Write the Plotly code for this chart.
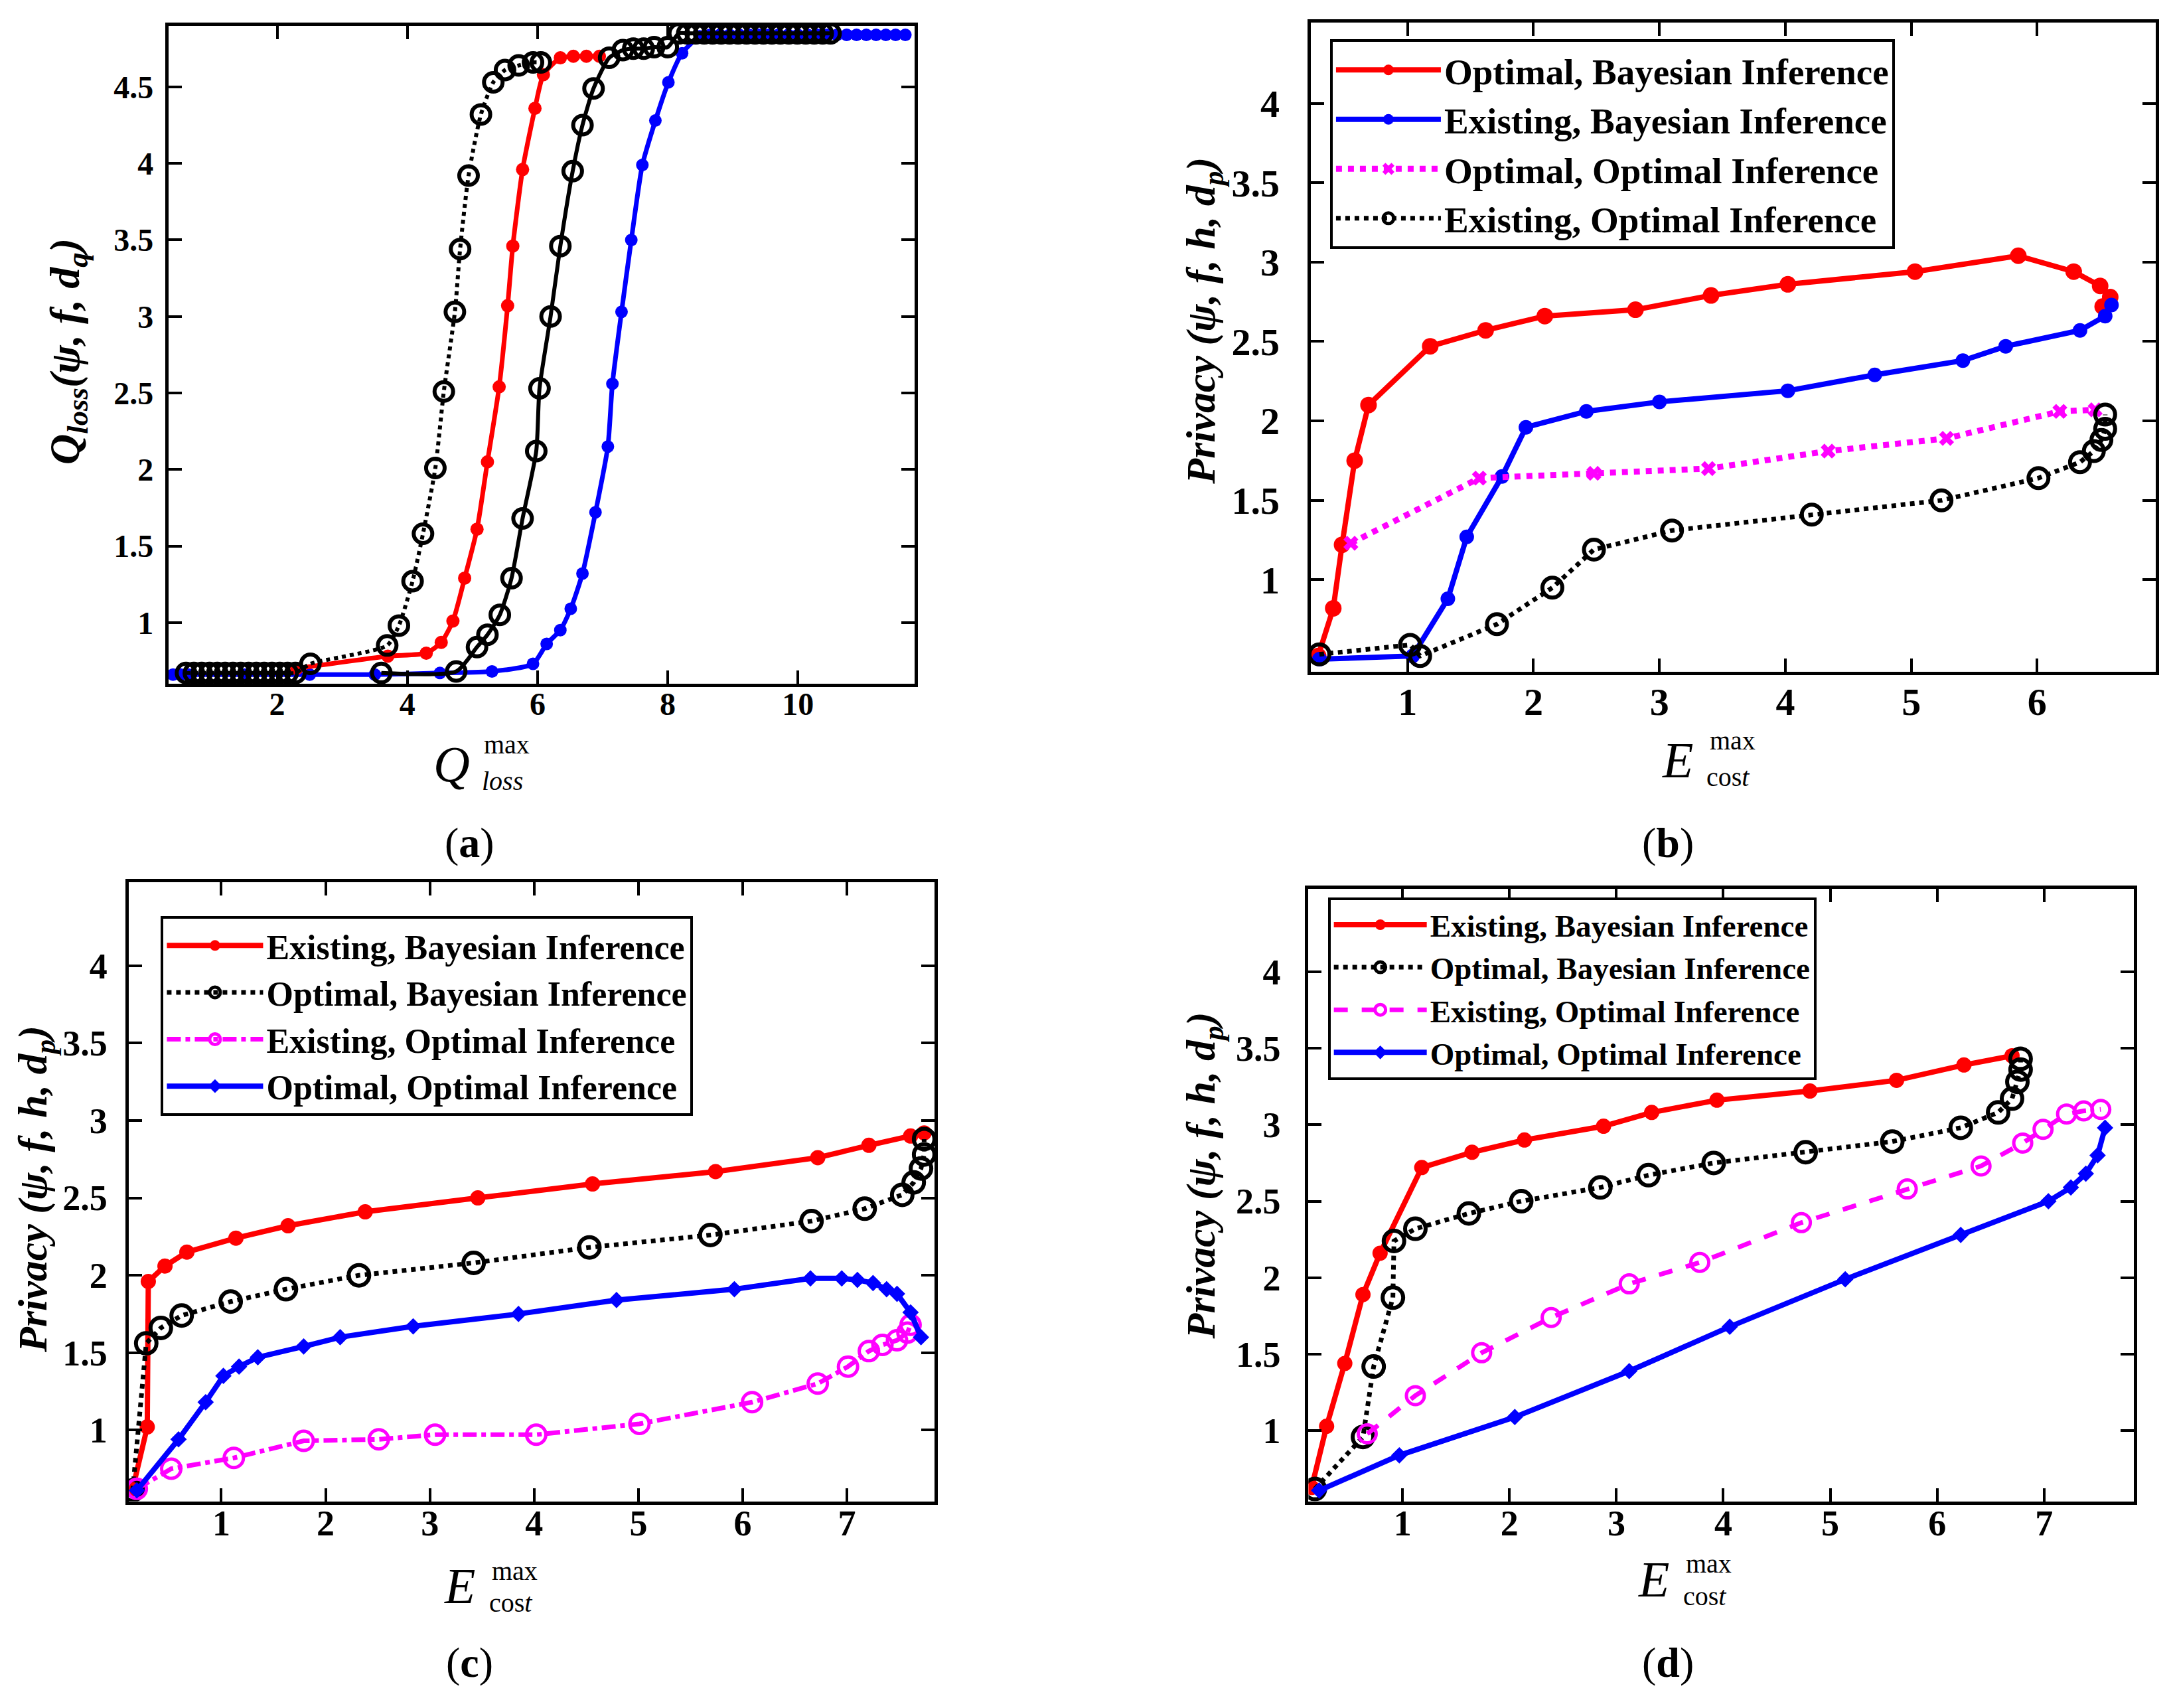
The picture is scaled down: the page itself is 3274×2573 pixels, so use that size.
import plotly.graph_objects as go

# ---------------- (a) Q_loss vs Q_loss^max ----------------
a_bdot_x = [0.60, 0.72, 0.84, 0.96, 1.08, 1.20, 1.32, 1.44, 1.56, 1.68, 1.80, 1.92, 2.04, 2.16, 2.28,
            2.51, 3.69, 3.87, 4.08, 4.24, 4.43, 4.56, 4.73, 4.81, 4.94, 5.13, 5.32, 5.50, 5.71, 5.93, 6.05]
a_bdot_y = [0.67, 0.67, 0.67, 0.67, 0.67, 0.67, 0.67, 0.67, 0.67, 0.67, 0.67, 0.67, 0.67, 0.67, 0.67,
            0.73, 0.85, 0.98, 1.27, 1.58, 2.01, 2.51, 3.03, 3.44, 3.92, 4.32, 4.53, 4.61, 4.64, 4.66, 4.66]

a_red_x = [2.30, 3.70, 4.29, 4.52, 4.70, 4.88, 5.07, 5.23, 5.41, 5.54, 5.62, 5.77, 5.96, 6.09,
           6.35, 6.55, 6.75, 6.95]
a_red_y = [0.70, 0.78, 0.80, 0.87, 1.01, 1.29, 1.61, 2.05, 2.54, 3.07, 3.46, 3.96, 4.36, 4.58,
           4.69, 4.70, 4.70, 4.70]

a_blk_x = [3.60, 4.75, 5.07, 5.23, 5.42, 5.60, 5.77, 5.98, 6.03, 6.20, 6.35, 6.54, 6.69, 6.86,
           7.10, 7.31, 7.47, 7.63, 7.79, 8.00,
           8.17, 8.30, 8.43, 8.56, 8.69, 8.82, 8.95, 9.08, 9.21, 9.34, 9.47, 9.60, 9.73, 9.86,
           9.99, 10.12, 10.25, 10.38, 10.50]
a_blk_y = [0.67, 0.68, 0.84, 0.92, 1.05, 1.29, 1.68, 2.12, 2.53, 3.00, 3.46, 3.95, 4.25, 4.49,
           4.69, 4.74, 4.75, 4.75, 4.76, 4.76,
           4.85, 4.85, 4.85, 4.85, 4.85, 4.85, 4.85, 4.85, 4.85, 4.85, 4.85, 4.85, 4.85, 4.85,
           4.85, 4.85, 4.85, 4.85, 4.85]

a_blue_x = [0.40, 0.52, 0.64, 1.50, 2.50, 3.50, 4.50, 5.30, 5.93, 6.14, 6.35, 6.51, 6.69, 6.89,
            7.08, 7.15, 7.29, 7.44, 7.61, 7.81, 8.01, 8.22, 8.49,
            8.65, 8.80, 8.95, 9.10, 9.25, 9.40, 9.55, 9.70, 9.85, 10.00, 10.15, 10.30, 10.45,
            10.60, 10.75, 10.90, 11.05, 11.20, 11.35, 11.50, 11.65]
a_blue_y = [0.66, 0.66, 0.66, 0.66, 0.66, 0.66, 0.67, 0.68, 0.73, 0.86, 0.95, 1.09, 1.32, 1.72,
            2.15, 2.56, 3.03, 3.50, 3.99, 4.28, 4.53, 4.72, 4.83,
            4.84, 4.84, 4.84, 4.84, 4.84, 4.84, 4.84, 4.84, 4.84, 4.84, 4.84, 4.84, 4.84,
            4.84, 4.84, 4.84, 4.84, 4.84, 4.84, 4.84, 4.84]

# ---------------- (b) ----------------
b_names = ['Optimal, Bayesian Inference', 'Existing, Bayesian Inference',
           'Optimal, Optimal Inference', 'Existing, Optimal Inference']
b_red_x = [0.29, 0.41, 0.48, 0.58, 0.69, 1.18, 1.62, 2.09, 2.81, 3.41, 4.02, 5.03, 5.85, 6.29, 6.50, 6.58, 6.52]
b_red_y = [0.52, 0.82, 1.22, 1.75, 2.10, 2.47, 2.57, 2.66, 2.70, 2.79, 2.86, 2.94, 3.04, 2.94, 2.85, 2.78, 2.72]
b_blue_x = [0.30, 1.04, 1.32, 1.47, 1.75, 1.94, 2.42, 3.00, 4.02, 4.71, 5.41, 5.75, 6.34, 6.54, 6.59]
b_blue_y = [0.50, 0.52, 0.88, 1.27, 1.65, 1.96, 2.06, 2.12, 2.19, 2.29, 2.38, 2.47, 2.57, 2.66, 2.73]
b_mag_x = [0.55, 1.57, 2.48, 3.39, 4.34, 5.28, 6.18, 6.46]
b_mag_y = [1.23, 1.64, 1.67, 1.70, 1.81, 1.89, 2.06, 2.07]
b_blk_x = [0.30, 1.02, 1.10, 1.71, 2.15, 2.48, 3.10, 4.21, 5.24, 6.01, 6.34, 6.45, 6.51, 6.54, 6.54]
b_blk_y = [0.53, 0.59, 0.52, 0.72, 0.95, 1.19, 1.31, 1.41, 1.50, 1.64, 1.74, 1.81, 1.88, 1.95, 2.04]

# ---------------- (c) ----------------
cd_names = ['Existing, Bayesian Inference', 'Optimal, Bayesian Inference',
            'Existing, Optimal Inference', 'Optimal, Optimal Inference']
c_red_x = [0.15, 0.29, 0.30, 0.46, 0.67, 1.14, 1.64, 2.38, 3.46, 4.56, 5.74, 6.72, 7.21, 7.61, 7.74]
c_red_y = [0.62, 1.02, 1.96, 2.06, 2.15, 2.24, 2.32, 2.41, 2.50, 2.59, 2.67, 2.76, 2.84, 2.90, 2.92]
c_blk_x = [0.15, 0.28, 0.42, 0.62, 1.09, 1.62, 2.32, 3.42, 4.53, 5.69, 6.66, 7.17, 7.53, 7.64, 7.71, 7.74, 7.74]
c_blk_y = [0.61, 1.56, 1.66, 1.74, 1.83, 1.91, 2.00, 2.08, 2.18, 2.26, 2.35, 2.43, 2.52, 2.60, 2.69, 2.78, 2.88]
c_mag_x = [0.19, 0.52, 1.12, 1.79, 2.51, 3.05, 4.02, 5.01, 6.09, 6.72, 7.01, 7.21, 7.34, 7.48, 7.58, 7.61]
c_mag_y = [0.62, 0.75, 0.82, 0.93, 0.94, 0.97, 0.97, 1.04, 1.18, 1.30, 1.41, 1.51, 1.55, 1.58, 1.63, 1.68]
c_blue_x = [0.19, 0.59, 0.85, 1.02, 1.17, 1.35, 1.79, 2.14, 2.84, 3.85, 4.79, 5.92, 6.65, 6.95,
            7.10, 7.25, 7.38, 7.48, 7.61, 7.71]
c_blue_y = [0.61, 0.94, 1.18, 1.35, 1.41, 1.47, 1.54, 1.60, 1.67, 1.75, 1.84, 1.91, 1.98, 1.98,
            1.97, 1.95, 1.91, 1.88, 1.76, 1.60]

# ---------------- (d) ----------------
d_red_x = [0.15, 0.29, 0.46, 0.63, 0.79, 1.18, 1.65, 2.14, 2.88, 3.33, 3.94, 4.81, 5.62, 6.25, 6.70]
d_red_y = [0.63, 1.03, 1.44, 1.89, 2.16, 2.72, 2.82, 2.90, 2.99, 3.08, 3.16, 3.22, 3.29, 3.39, 3.45]
d_blk_x = [0.18, 0.63, 0.73, 0.91, 0.92, 1.12, 1.62, 2.11, 2.85, 3.30, 3.91, 4.77, 5.58, 6.22,
           6.57, 6.70, 6.75, 6.78, 6.78]
d_blk_y = [0.62, 0.96, 1.42, 1.87, 2.24, 2.32, 2.42, 2.50, 2.59, 2.67, 2.75, 2.82, 2.89, 2.98,
           3.08, 3.17, 3.28, 3.36, 3.43]
d_mag_x = [0.67, 1.12, 1.74, 2.39, 3.12, 3.78, 4.73, 5.72, 6.41, 6.80, 6.99, 7.21, 7.37, 7.53]
d_mag_y = [0.98, 1.23, 1.51, 1.74, 1.96, 2.10, 2.36, 2.58, 2.73, 2.88, 2.97, 3.07, 3.09, 3.10]
d_blue_x = [0.22, 0.97, 2.05, 3.12, 4.06, 5.14, 6.22, 7.04, 7.25, 7.39, 7.50, 7.57]
d_blue_y = [0.61, 0.84, 1.09, 1.39, 1.68, 1.99, 2.28, 2.50, 2.59, 2.68, 2.80, 2.98]

# tick values
a_xticks = [2, 4, 6, 8, 10]
a_yticks = [1, 1.5, 2, 2.5, 3, 3.5, 4, 4.5]
b_xticks = [1, 2, 3, 4, 5, 6]
cd_xticks = [1, 2, 3, 4, 5, 6, 7]
bcd_yticks = [1, 1.5, 2, 2.5, 3, 3.5, 4]


SERIF = 'Liberation Serif'
RED, BLUE, MAG, BLK = '#ff0000', '#0000ff', '#ff00ff', '#000000'

fig = go.Figure()


def add(x, y, ax, name, color, dash, symbol, size, mlw=0, width=8, legend='legend', show=True, shape='linear'):
    fig.add_trace(go.Scatter(
        x=x, y=y, xaxis='x' + ax, yaxis='y' + ax, name=name, mode='lines+markers',
        line=dict(color=color, width=width, dash=dash, shape=shape, smoothing=0.6),
        marker=dict(symbol=symbol, size=size, color=color, line=dict(color=color, width=mlw)),
        legend=legend, showlegend=show))


# (a) no legend
add(a_blue_x, a_blue_y, '', 'a4', BLUE, 'solid', 'circle', 19, width=7, show=False, shape='spline')
add(a_red_x, a_red_y, '', 'a2', RED, 'solid', 'circle', 20, width=7, show=False, shape='spline')
add(a_blk_x, a_blk_y, '', 'a3', BLK, 'solid', 'circle-open', 28, mlw=6, width=6, show=False, shape='spline')
add(a_bdot_x, a_bdot_y, '', 'a1', BLK, 'dot', 'circle-open', 28, mlw=6, width=6, show=False, shape='spline')

# (b)
add(b_red_x, b_red_y, '2', b_names[0], RED, 'solid', 'circle', 25)
add(b_blue_x, b_blue_y, '2', b_names[1], BLUE, 'solid', 'circle', 22)
add(b_mag_x, b_mag_y, '2', b_names[2], MAG, 'dot', 'x', 20, width=9)
add(b_blk_x, b_blk_y, '2', b_names[3], BLK, 'dot', 'circle-open', 30, mlw=6, width=7)

# (c)
add(c_red_x, c_red_y, '3', cd_names[0], RED, 'solid', 'circle', 23, legend='legend2')
add(c_blk_x, c_blk_y, '3', cd_names[1], BLK, 'dot', 'circle-open', 31, mlw=6, width=7, legend='legend2')
add(c_mag_x, c_mag_y, '3', cd_names[2], MAG, 'dashdot', 'circle-open', 29, mlw=5, width=7, legend='legend2')
add(c_blue_x, c_blue_y, '3', cd_names[3], BLUE, 'solid', 'diamond', 19, legend='legend2')

# (d)
add(d_red_x, d_red_y, '4', cd_names[0], RED, 'solid', 'circle', 23, legend='legend3')
add(d_blk_x, d_blk_y, '4', cd_names[1], BLK, 'dot', 'circle-open', 31, mlw=6, width=7, legend='legend3')
add(d_mag_x, d_mag_y, '4', cd_names[2], MAG, 'dash', 'circle-open', 27, mlw=5, width=7, legend='legend3')
add(d_blue_x, d_blue_y, '4', cd_names[3], BLUE, 'solid', 'diamond', 19, legend='legend3')


def axis(domain, rng, ticks, size, anchor, standoff):
    return dict(domain=domain, range=rng, tickvals=ticks, anchor=anchor,
                ticks='inside', ticklen=20, tickwidth=4, tickcolor='black',
                showline=True, linecolor='black', linewidth=5, mirror='ticks',
                showgrid=False, zeroline=False, ticklabelstandoff=standoff,
                tickfont=dict(family=SERIF, size=size, color='black', weight='bold'))


def legend_box(x, y, size, iw):
    return dict(x=x, y=y, xanchor='left', yanchor='top', bgcolor='white',
                bordercolor='black', borderwidth=4, itemwidth=iw, tracegroupgap=0,
                font=dict(family=SERIF, size=size, color='black', weight='bold'))


fig.update_layout(
    width=3256, height=2555, margin=dict(l=0, r=0, t=0, b=0),
    paper_bgcolor='white', plot_bgcolor='white', template='plotly_white',
    xaxis=axis([0.0755, 0.4207], [0.33, 11.79], a_xticks, 48, 'y', -16),
    yaxis=axis([0.600, 0.988], [0.60, 4.90], a_yticks, 48, 'x', 8),
    xaxis2=axis([0.604, 0.995], [0.23, 6.94], b_xticks, 58, 'y2', -10),
    yaxis2=axis([0.607, 0.990], [0.42, 4.51], bcd_yticks, 58, 'x2', 30),
    xaxis3=axis([0.057, 0.430], [0.11, 7.84], cd_xticks, 54, 'y3', -18),
    yaxis3=axis([0.118, 0.483], [0.54, 4.54], bcd_yticks, 54, 'x3', 16),
    xaxis4=axis([0.603, 0.985], [0.12, 7.84], cd_xticks, 54, 'y4', -18),
    yaxis4=axis([0.118, 0.479], [0.54, 4.54], bcd_yticks, 54, 'x4', 26),
    legend=legend_box(0.613, 0.980, 55, 158),
    legend2=legend_box(0.072, 0.463, 52, 145),
    legend3=legend_box(0.612, 0.474, 47, 140),
)

ann = []


def text(x, y, s, size, angle=0, bold=False):
    ann.append(dict(x=x, y=y, xref='paper', yref='paper', text=s, showarrow=False,
                    xanchor='center', yanchor='middle', textangle=angle,
                    font=dict(family=SERIF, size=size, color='black',
                              weight='bold' if bold else 'normal')))


# y axis titles
text(0.0288, 0.796, '<i>Q<sub>loss</sub>(ψ, f, d<sub>q</sub>)</i>', 64, -90, True)
text(0.5545, 0.814, '<i>Privacy (ψ, f, h, d<sub>p</sub>)</i>', 62, -90, True)
text(0.0140, 0.302, '<i>Privacy (ψ, f, h, d<sub>p</sub>)</i>', 62, -90, True)
text(0.5545, 0.310, '<i>Privacy (ψ, f, h, d<sub>p</sub>)</i>', 62, -90, True)

# x axis titles: big letter with stacked superscript "max" and subscript
for (bx, by, big, sub, up) in [(0.2064, 0.5527, 'Q', '<i>loss</i>', 0.0115),
                               (0.7737, 0.5551, 'E', 'cos<i>t</i>', 0.0115),
                               (0.2103, 0.0680, 'E', 'cos<i>t</i>', 0.0090),
                               (0.7628, 0.0721, 'E', 'cos<i>t</i>', 0.0090)]:
    text(bx, by, '<i>' + big + '</i>', 76)
    text(bx + 0.0255, by + up, 'max', 40)
    text(bx + 0.0235, by - 0.0100, sub, 40)

# panel labels
text(0.2147, 0.5061, '(<b>a</b>)', 64)
text(0.7692, 0.5061, '(<b>b</b>)', 64)
text(0.2147, 0.0229, '(<b>c</b>)', 64)
text(0.7692, 0.0229, '(<b>d</b>)', 64)

fig.update_layout(annotations=ann)

fig.write_html("out.html")
